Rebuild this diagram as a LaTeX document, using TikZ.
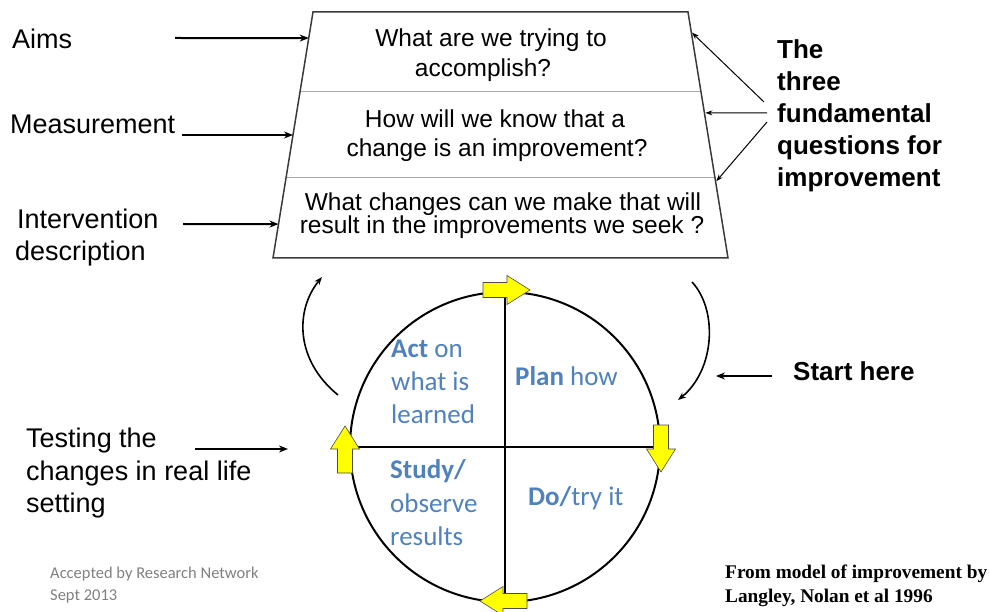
\documentclass[tikz,border=0pt]{standalone}
\usepackage{fontspec}
\setmainfont{Liberation Sans}
\newfontfamily\calfont{Carlito}
\newfontfamily\tmsfont{Liberation Serif}
\usetikzlibrary{arrows.meta,calc}
\definecolor{qblue}{HTML}{4F81BD}
\definecolor{notegray}{HTML}{808080}
\definecolor{edgegray}{HTML}{3A3A3A}
\definecolor{divgray}{HTML}{A8A8A8}
\definecolor{yel}{HTML}{FFFF00}
\tikzset{
 lab/.style={anchor=base west, inner sep=0pt, font=\fontsize{27}{32}\selectfont},
 qtext/.style={anchor=base, inner sep=0pt, font=\fontsize{24.5}{29}\selectfont},
 blab/.style={anchor=base west, inner sep=0pt, font=\fontsize{26}{31}\selectfont\bfseries},
 quad/.style={anchor=base west, inner sep=0pt, text=qblue, font=\fontsize{27}{33}\calfont},
 note/.style={anchor=base west, inner sep=0pt, text=notegray, font=\fontsize{16.5}{20}\calfont},
 src/.style={anchor=base west, inner sep=0pt, font=\fontsize{19.3}{24}\tmsfont\bfseries},
 bigarrow/.style={line width=2pt, -{Stealth[length=9pt,width=7pt]}},
 thinarrow/.style={line width=1pt, -{Stealth[length=7pt,width=5pt]}},
 curvearrow/.style={line width=1.6pt, -{Stealth[length=8pt,width=6pt]}},
 yarrow/.pic={\draw[fill=yel, draw=black!70, line width=0.6pt]
   (-24,-7.5) -- (0,-7.5) -- (0,-14.5) -- (23,0) -- (0,14.5) -- (0,7.5) -- (-24,7.5) -- cycle;}
}
\begin{document}
\begin{tikzpicture}[x=1pt,y=-1pt]
\useasboundingbox (0,0) rectangle (990,612);

% trapezoid
\coordinate (TL) at (313,12);
\coordinate (TR) at (688,12);
\coordinate (BR) at (728,258);
\coordinate (BL) at (273,258);
\draw[divgray, line width=1pt] ($(TL)!0.325!(BL)$) coordinate (d1l) -- ($(TR)!0.325!(BR)$) coordinate (d1r);
\draw[divgray, line width=1pt] ($(TL)!0.671!(BL)$) coordinate (d2l) -- ($(TR)!0.671!(BR)$) coordinate (d2r);
\draw[edgegray, line width=1.5pt, line join=miter] (TL) -- (TR) -- (BR) -- (BL) -- cycle;

\path ($(TL)!0.106!(BL)$) coordinate (aimT);
\path ($(TL)!0.5!(BL)$) coordinate (measT);
\path ($(TL)!0.862!(BL)$) coordinate (intT);
\path ($(TR)!0.081!(BR)$) coordinate (q1T);
\path ($(TR)!0.41!(BR)$) coordinate (q2T);
\path ($(TR)!0.691!(BR)$) coordinate (q3T);

% questions
\node[qtext] (q1a) at (491,47) {What are we trying to};
\node[qtext] (q1b) at (483,77) {accomplish?};
\node[qtext] (q2a) at (495,128) {How will we know that a};
\node[qtext] (q2b) at (497,157) {change is an improvement?};
\node[qtext] (q3a) at (503,211) {What changes can we make that will};
\node[qtext] (q3b) at (502,234) {result in the improvements we seek ?};

% left labels
\node[lab] (aims) at (12,49) {Aims};
\node[lab] (meas) at (10,134) {Measurement};
\node[lab] (int1) at (17,229) {Intervention};
\node[lab] (int2) at (15,261) {description};
\node[lab] (test1) at (26,447) {Testing the};
\node[lab] (test2) at (26,480) {changes in real life};
\node[lab] (test3) at (26,512) {setting};

\coordinate (aimS) at (175,38);
\coordinate (measS) at (182,135);
\coordinate (intS) at (183,224);
\coordinate (testS) at (195,449);
\coordinate (testE) at (288,449);
\draw[bigarrow] (aimS) -- (aimT);
\draw[bigarrow] (measS) -- (measT);
\draw[bigarrow] (intS) -- (intT);
\draw[bigarrow] (testS) -- (testE);

% right labels
\node[blab] (t1) at (777,59) {The};
\node[blab] (t2) at (777,91) {three};
\node[blab] (t3) at (777,123) {fundamental};
\node[blab] (t4) at (777,155) {questions for};
\node[blab] (t5) at (777,187) {improvement};
\coordinate (r1S) at (764,102);
\coordinate (r2S) at (767,113);
\coordinate (r3S) at (767,122);
\draw[thinarrow, shorten >=1pt] (r1S) -- (q1T);
\draw[thinarrow, shorten >=1pt] (r2S) -- (q2T);
\draw[thinarrow, shorten >=1pt] (r3S) -- (q3T);

\node[blab] (start) at (793,380) {Start here};
\coordinate (stS) at (772,376);
\coordinate (stE) at (716,376);
\draw[bigarrow] (stS) -- (stE);

% PDSA circle
\coordinate (C) at (505,447);
\draw[line width=2pt] (C) circle[radius=155];
\draw[line width=2pt] ($(C)+(0,-155)$) coordinate (ctop) -- ($(C)+(0,155)$) coordinate (cbot);
\draw[line width=2pt] ($(C)+(-155,0)$) coordinate (cleft) -- ($(C)+(155,0)$) coordinate (cright);

\pic at (507,290) {yarrow};
\pic[rotate=-90] at (661,449) {yarrow};
\pic[rotate=180] at (503,601) {yarrow};
\pic[rotate=90] at (345,449) {yarrow};

% curved arrows
\coordinate (la1) at (338,395);
\coordinate (la2) at (322,277);
\coordinate (ra1) at (692,282);
\coordinate (ra2) at (678,400);
\draw[curvearrow] (la1) .. controls (295,360) and (295,310) .. (la2);
\draw[curvearrow] (ra1) .. controls (718,310) and (715,370) .. (ra2);

% quadrant text
\node[quad] (act1) at (391,357) {\bfseries Act\mdseries{} on};
\node[quad] (act2) at (391,390) {what is};
\node[quad] (act3) at (391,423) {learned};
\node[quad] (plan) at (515,385) {\bfseries Plan\mdseries{} how};
\node[quad] (st1) at (390,478) {\bfseries Study/};
\node[quad] (st2) at (390,512) {observe};
\node[quad] (st3) at (390,545) {results};
\node[quad] (do) at (528,505) {\bfseries Do/\mdseries{}try it};

% notes
\node[note] (acc1) at (50,578) {Accepted by Research Network};
\node[note] (acc2) at (50,600) {Sept 2013};
\node[src] (src1) at (725,578) {From model of improvement by};
\node[src] (src2) at (725,602) {Langley, Nolan et al 1996};
\end{tikzpicture}
\end{document}
